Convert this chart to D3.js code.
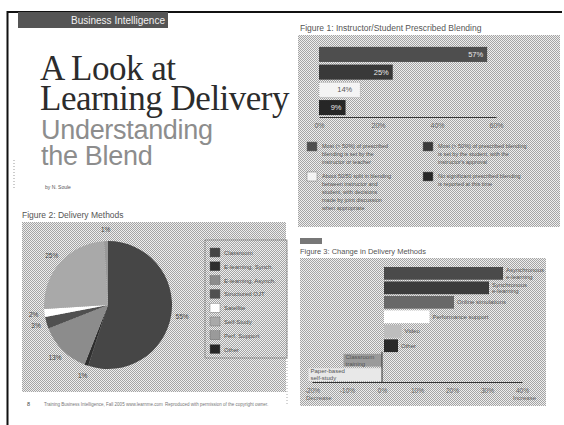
<!DOCTYPE html>
<html>
<head>
<meta charset="utf-8">
<script src="https://cdn.jsdelivr.net/npm/d3@7"></script>
<style>
  html, body { margin: 0; padding: 0; background: #fff; }
  svg { display: block; }
  text { font-family: "Liberation Sans", Arial, sans-serif; }
</style>
</head>
<body>
<script>
// Figure 1: Instructor/Student Prescribed Blending
const blendCategories = ["Instructor", "Student", "Shared", "None"]
const blendValues = [57, 25, 14, 9]
const blendTicks = [0, 20, 40, 60]
const blendLegend = [
  ["Most (> 50%) of prescribed", "blending is set by the", "instructor or teacher"],
  ["Most (> 50%) of prescribed blending", "is set by the student, with the", "instructor's approval"],
  ["About 50/50 split in blending", "between instructor and", "student, with decisions", "made by joint discussion", "when appropriate"],
  ["No significant prescribed blending", "is reported at this time"]
]

// Figure 2: Delivery Methods
const methodCategories = ["Classroom", "E-learning, Synch.", "E-learning, Asynch.", "Structured OJT", "Satellite", "Self-Study", "Perf. Support", "Other"]
const methodValues = [55, 1, 13, 3, 2, 25, 1, 0]

// Figure 3: Change in Delivery Methods
const changeCategories = ["Asynchronous\ne-learning", "Synchronous\ne-learning", "Online simulations", "Performance support", "Video", "Other", "Classroom\ntraining", "Paper-based\nself-study"]
const changeValues = [34, 30, 20, 13, 5, 4, -11, -21]
const changeTicks = [-20, -10, 0, 10, 20, 30, 40]

const blendColors = ["#4e4e4e", "#393939", "#f4f4f4", "#262626"]
const methodColors = ["#464646", "#2e2e2e", "#8c8c8c", "#505050", "#ffffff", "#a9a9a9", "#9a9a9a", "#262626"]
const changeColors = ["#4a4a4a", "#3c3c3c", "#686868", "#ffffff", "#bdbdbd", "#2a2a2a", "#9a9a9a", "#e8e8e8"]

const W = 564, H = 425
const svg = d3.select("body").append("svg").attr("width", W).attr("height", H)

// halftone look of the scan
const pat = svg.append("defs").append("pattern")
  .attr("id", "dither").attr("width", 2).attr("height", 2)
  .attr("patternUnits", "userSpaceOnUse")
pat.append("rect").attr("width", 2).attr("height", 2).attr("fill", "#eeeeee")
pat.append("rect").attr("x", 0).attr("y", 0).attr("width", 1).attr("height", 1).attr("fill", "#a4a4a4")
pat.append("rect").attr("x", 1).attr("y", 1).attr("width", 1).attr("height", 1).attr("fill", "#a4a4a4")

// page frame
svg.append("line").attr("x1", 7).attr("x2", 562).attr("y1", 12).attr("y2", 12)
  .attr("stroke", "#111").attr("stroke-width", 2)
svg.append("line").attr("x1", 7.5).attr("x2", 7.5).attr("y1", 11).attr("y2", H)
  .attr("stroke", "#111").attr("stroke-width", 2)
svg.append("line").attr("x1", 14).attr("x2", 14).attr("y1", 160).attr("y2", 190)
  .attr("stroke", "#999").attr("stroke-dasharray", "1 2")
svg.append("line").attr("x1", 287).attr("x2", 287).attr("y1", 250).attr("y2", 405)
  .attr("stroke", "#aaa").attr("stroke-dasharray", "1 2")

// ---------- left column heading ----------
svg.append("rect").attr("x", 18).attr("y", 12).attr("width", 150).attr("height", 16).attr("fill", "#555")
svg.append("text").attr("x", 165).attr("y", 24).attr("text-anchor", "end")
  .attr("font-size", 10).attr("fill", "#f2f2f2").text("Business Intelligence")

const title = svg.append("g").attr("font-family", "'Liberation Serif', 'Times New Roman', serif")
  .attr("fill", "#2c2c2c").attr("font-size", 35).attr("letter-spacing", -0.5)
title.append("text").attr("x", 40).attr("y", 80).style("font-family", "'Liberation Serif', serif").text("A Look at")
title.append("text").attr("x", 40).attr("y", 110).style("font-family", "'Liberation Serif', serif").text("Learning Delivery")

svg.append("text").attr("x", 41).attr("y", 139).attr("font-size", 27).attr("fill", "#8d8d8d")
  .attr("letter-spacing", -0.3).text("Understanding")
svg.append("text").attr("x", 41).attr("y", 165).attr("font-size", 27).attr("fill", "#8d8d8d")
  .attr("letter-spacing", -0.3).text("the Blend")
svg.append("text").attr("x", 45).attr("y", 189).attr("font-size", 5).attr("fill", "#555").text("by N. Soule")

// ---------- Figure 2: pie ----------
const f2 = svg.append("g")
f2.append("text").attr("x", 22).attr("y", 218).attr("font-size", 8.5).attr("fill", "#555")
  .text("Figure 2: Delivery Methods")
f2.append("rect").attr("x", 22).attr("y", 222).attr("width", 264).attr("height", 170).attr("fill", "url(#dither)")

const methods = methodCategories.map((c, i) => ({cat: c, value: methodValues[i], color: methodColors[i]}))
const pie = d3.pie().sort(null).value(d => d.value)
const radius = 64
const arc = d3.arc().innerRadius(0).outerRadius(radius)
const labelArc = d3.arc().innerRadius(radius + 11).outerRadius(radius + 11)
const pieG = f2.append("g").attr("transform", "translate(108,305)")
const slices = pie(methods)
pieG.selectAll("path").data(slices).join("path")
  .attr("d", arc).attr("fill", d => d.data.color)
pieG.selectAll("text").data(slices.filter(d => d.data.value >= 1)).join("text")
  .attr("transform", d => `translate(${labelArc.centroid(d)})`)
  .attr("text-anchor", "middle").attr("dy", "0.35em")
  .attr("font-size", 6.5).attr("fill", "#444")
  .text(d => d.data.value + "%")

const leg2 = f2.append("g").attr("transform", "translate(205,240)")
leg2.append("rect").attr("width", 82).attr("height", 118)
  .attr("fill", "url(#dither)").attr("stroke", "#777").attr("stroke-width", 0.7)
const rows2 = leg2.selectAll("g").data(methods).join("g")
  .attr("transform", (d, i) => `translate(5,${8 + i * 13.8})`)
rows2.append("rect").attr("width", 10).attr("height", 9)
  .attr("fill", d => d.color).attr("stroke", "#666").attr("stroke-width", 0.4)
rows2.append("text").attr("x", 14).attr("y", 7).attr("font-size", 6).attr("fill", "#555")
  .text(d => d.cat)

// footer
svg.append("text").attr("x", 27).attr("y", 406).attr("font-size", 5.5).attr("fill", "#444").text("8")
svg.append("text").attr("x", 44).attr("y", 406).attr("font-size", 4.5).attr("fill", "#777")
  .text("Training Business Intelligence, Fall 2005  www.learnme.com")
svg.append("text").attr("x", 165).attr("y", 406).attr("font-size", 4.5).attr("fill", "#777")
  .text("Reproduced with permission of the copyright owner.")

// ---------- Figure 1: horizontal bars ----------
const f1 = svg.append("g")
f1.append("text").attr("x", 300).attr("y", 31).attr("font-size", 8.5).attr("fill", "#555")
  .text("Figure 1: Instructor/Student Prescribed Blending")
f1.append("rect").attr("x", 298).attr("y", 35).attr("width", 262).attr("height", 192).attr("fill", "url(#dither)")

const x1 = d3.scaleLinear().domain([0, 60]).range([319, 496])
const y1 = d3.scaleBand().domain(blendCategories).range([46, 116]).paddingInner(0.15).paddingOuter(0.05)
f1.selectAll("rect.bar").data(blendCategories).join("rect").attr("class", "bar")
  .attr("x", x1(0)).attr("y", d => y1(d))
  .attr("width", (d, i) => x1(blendValues[i]) - x1(0)).attr("height", y1.bandwidth())
  .attr("fill", (d, i) => blendColors[i])
  .attr("stroke", (d, i) => i === 2 ? "#999" : "none").attr("stroke-width", 0.6)
  .attr("stroke-dasharray", "1 1")
f1.selectAll("text.val").data(blendCategories).join("text").attr("class", "val")
  .attr("x", (d, i) => x1(blendValues[i]) - (i === 2 ? 8 : 4))
  .attr("y", d => y1(d) + y1.bandwidth() / 2).attr("dy", "0.35em")
  .attr("text-anchor", "end").attr("font-size", 7.5)
  .attr("fill", (d, i) => i === 2 ? "#555" : "#e8e8e8")
  .text((d, i) => blendValues[i] + "%")

const ax1 = f1.append("g").attr("transform", "translate(0,117)")
  .call(d3.axisBottom(x1).tickValues(blendTicks).tickSize(0).tickPadding(6).tickFormat(d => d + "%"))
ax1.select(".domain").attr("stroke", "#333").attr("stroke-width", 1)
ax1.selectAll("text").attr("font-size", 7).attr("fill", "#666")

const leg1 = f1.selectAll("g.leg").data(blendLegend).join("g").attr("class", "leg")
  .attr("transform", (d, i) => `translate(${i % 2 === 0 ? 307 : 423},${i < 2 ? 142 : 172})`)
leg1.append("rect").attr("width", 10).attr("height", 9)
  .attr("fill", (d, i) => blendColors[i]).attr("stroke", "#777").attr("stroke-width", 0.5)
leg1.each(function(lines) {
  d3.select(this).selectAll("text").data(lines).join("text")
    .attr("x", 15).attr("y", (d, j) => 6 + j * 8)
    .attr("font-size", 5.5).attr("fill", "#555").text(d => d)
})

// ---------- Figure 3: diverging bars ----------
const f3 = svg.append("g")
f3.append("rect").attr("x", 300).attr("y", 238).attr("width", 22).attr("height", 6).attr("fill", "#777")
f3.append("text").attr("x", 300).attr("y", 254).attr("font-size", 7.5).attr("fill", "#555")
  .text("Figure 3: Change in Delivery Methods")
f3.append("rect").attr("x", 300).attr("y", 258).attr("width", 246).attr("height", 148).attr("fill", "url(#dither)")

const x3 = d3.scaleLinear().domain([-20, 40]).range([312, 522])
const y3 = d3.scaleBand().domain(changeCategories).range([267, 381]).paddingInner(0.12)
f3.selectAll("rect.bar").data(changeCategories).join("rect").attr("class", "bar")
  .attr("x", (d, i) => changeValues[i] >= 0 ? x3(0) + 2 : x3(changeValues[i]))
  .attr("y", d => y3(d))
  .attr("width", (d, i) => Math.abs(x3(changeValues[i]) - x3(0)))
  .attr("height", y3.bandwidth())
  .attr("fill", (d, i) => changeColors[i])

const lab3 = f3.selectAll("g.lab").data(changeCategories).join("g").attr("class", "lab")
  .attr("transform", (d, i) => {
    const v = changeValues[i]
    const lx = v >= 0 ? x3(v) + 5 : x3(v) + 2
    return `translate(${lx},${y3(d) + y3.bandwidth() / 2})`
  })
lab3.each(function(d) {
  const lines = d.split("\n")
  d3.select(this).selectAll("text").data(lines).join("text")
    .attr("y", (t, j) => (j - (lines.length - 1) / 2) * 6.5).attr("dy", "0.35em")
    .attr("font-size", 6).attr("fill", "#555").text(t => t)
})

f3.append("line").attr("x1", x3(0)).attr("x2", x3(0))
  .attr("y1", y3(changeCategories[6]) - 2).attr("y2", 382)
  .attr("stroke", "#333").attr("stroke-width", 1)
const ax3 = f3.append("g").attr("transform", "translate(0,382)")
  .call(d3.axisBottom(x3).tickValues(changeTicks).tickSize(0).tickPadding(6).tickFormat(d => d + "%"))
ax3.select(".domain").attr("stroke", "#333").attr("stroke-width", 1)
ax3.selectAll("text").attr("font-size", 6.5).attr("fill", "#666")
f3.append("text").attr("x", 306).attr("y", 400).attr("font-size", 6).attr("fill", "#666").text("Decrease")
f3.append("text").attr("x", 536).attr("y", 400).attr("font-size", 6).attr("fill", "#666")
  .attr("text-anchor", "end").text("Increase")
</script>
</body>
</html>
